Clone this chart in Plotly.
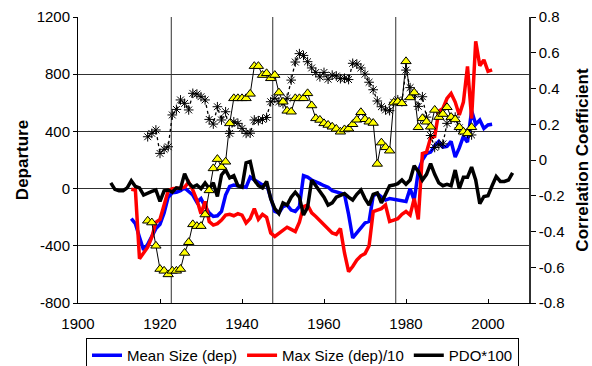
import plotly.graph_objects as go

# ---------------- data ----------------
pdo_years = list(range(1908, 2007))
pdo_x100 = [40, -5, -15, -15, 5, 55, 15, 5, -45, -30,
            -20, -10, -90, -15, -10, -25, 5, 0, 105, 40,
            10, 25, 0, 40, 0, 40, -55, 95, 130, 75,
            90, 20, 10, 180, 190, 60, 20, 5, 50, -70,
            -140, -175, -100, -115, -60, -25, -60, -185, -130, 60,
            20, -30, -60, -115, -100, -60, -50, -35, -60, -80,
            -40, -10, -70, -115, -40, -30, -100, -35, 20, 25,
            35, 60, 30, 60, 160, 120, 60, 100, 175, 100,
            40, 20, 30, 20, 130, 0, 80, 80, 150, 60,
            -105, -55, -50, 20, 85, 50, 50, 60, 110]

size_years = list(range(1913, 2002))
mean_size_dep = [-210, -245, -340, -430, -390, -340, -280, -250, -170, -60,
                 -30, -25, -15, 5, -20, -45, -95, -70, -125, -170,
                 -195, -190, -160, -45, 15, 25, 20, 15, 10, 80,
                 60, 40, 25, 30, -70, -160, -170, -125, -115, -150,
                 -160, -125, 90, 80, 60, 50, 35, 20, 10, -15,
                 -25, -35, -40, -180, -345, -310, -270, -240, -230, -50,
                 -35, -55, -80, -70, -75, -80, -85, -90, 0, -80,
                 120, 200, 245, 255, 300, 330, 290, 295, 330, 220,
                 285, 365, 325, 545, 450, 480, 420, 445, 450]
max_size_dep_10 = [-5, -10, -490, -450, -410, -340, -235, -215, -110, -15,
                   0, 0, 5, 10, 45, -10, -80, -175, -90, -230,
                   -255, -245, -220, -185, -180, -190, -175, -185, -240, -210,
                   -140, -215, -180, -200, -310, -335, -315, -290, -270, -285,
                   -300, -235, -125, -115, -170, -195, -225, -255, -280, -310,
                   -320, -280, -450, -580, -545, -500, -470, -455, -400, -160,
                   -150, -140, -115, -230, -220, -210, -180, -160, -185, -70,
                   -215, 245, 255, 355, 365, 540, 560, 630, 665, 605,
                   515, 605, 855, 490, 1030, 860, 900, 820, 830]

corr_years = list(range(1917, 1997))
corr_triangle = [-0.34, -0.35, -0.48, -0.61, -0.62, -0.64, -0.62, -0.62, -0.61, -0.52,
                 -0.46, -0.36, -0.37, -0.37, -0.305, -0.17, -0.047, 0.005, -0.04, -0.01,
                 0.205, 0.345, 0.345, 0.345, 0.345, 0.37, 0.525, 0.525, 0.475, 0.485,
                 0.457, 0.475, 0.377, 0.326, 0.275, 0.27, 0.345, 0.345, 0.345, 0.373,
                 0.305, 0.233, 0.224, 0.205, 0.196, 0.186, 0.174, 0.158, 0.171, 0.175,
                 0.2, 0.225, 0.267, 0.228, 0.214, 0.207, -0.022, 0.097, 0.071, 0.052,
                 0.321, 0.326, 0.317, 0.552, 0.35, 0.377, 0.183, 0.233, 0.214, 0.186,
                 0.28, 0.24, 0.257, 0.295, 0.24, 0.227, 0.183, 0.158, 0.149, 0.183]
corr_asterisk = [0.13, 0.149, 0.168, 0.037, 0.06, 0.074, 0.252, 0.283, 0.336, 0.317,
                 0.28, 0.373, 0.369, 0.354, 0.336, 0.227, 0.201, 0.298, 0.224, 0.27,
                 0.149, 0.214, 0.205, 0.177, 0.149, 0.15, 0.224, 0.22, 0.227, 0.238,
                 0.326, 0.345, 0.326, 0.315, 0.345, 0.447, 0.548, 0.595, 0.585, 0.55,
                 0.515, 0.49, 0.465, 0.49, 0.452, 0.475, 0.47, 0.455, 0.457, 0.45,
                 0.541, 0.537, 0.515, 0.48, 0.435, 0.393, 0.33, 0.298, 0.28, 0.276,
                 0.323, 0.337, 0.326, 0.503, 0.405, 0.368, 0.30, 0.354, 0.24, 0.137,
                 0.07, 0.084, 0.09, 0.205, 0.23, 0.24, 0.18, 0.158, 0.149, 0.14]

regime_shift_years = [1922.75, 1947.5, 1977.5]

x_tick_vals = [1900, 1920, 1940, 1960, 1980, 2000]
x_tick_text = ["1900", "1920", "1940", "1960", "1980", "2000"]
y_tick_vals = [-800, -400, 0, 400, 800, 1200]
y_tick_text = ["-800", "-400", "0", "400", "800", "1200"]
y2_tick_vals = [-0.8, -0.6, -0.4, -0.2, 0, 0.2, 0.4, 0.6, 0.8]
y2_tick_text = ["-0.8", "-0.6", "-0.4", "-0.2", "0", "0.2", "0.4", "0.6", "0.8"]

# ---------------- figure ----------------
FONT = "Liberation Sans, Arial, sans-serif"
fig = go.Figure()

fig.add_trace(go.Scatter(x=size_years, y=mean_size_dep, mode="lines",
                         name="Mean Size (dep)",
                         line=dict(color="#0000FF", width=3.5)))
fig.add_trace(go.Scatter(x=size_years, y=max_size_dep_10, mode="lines",
                         name="Max Size (dep)/10",
                         line=dict(color="#FF0000", width=3.5)))
fig.add_trace(go.Scatter(x=pdo_years, y=pdo_x100, mode="lines",
                         name="PDO*100",
                         line=dict(color="#000000", width=3.5)))
fig.add_trace(go.Scatter(x=corr_years, y=corr_asterisk, mode="lines+markers",
                         yaxis="y2", showlegend=False,
                         line=dict(color="#000000", width=1.3, dash="dot"),
                         marker=dict(symbol="asterisk-open", size=8,
                                     line=dict(color="#000000", width=1))))
fig.add_trace(go.Scatter(x=corr_years, y=corr_triangle, mode="lines+markers",
                         yaxis="y2", showlegend=False,
                         line=dict(color="#000000", width=1),
                         marker=dict(symbol="triangle-up", size=9, color="#FFFF00",
                                     line=dict(color="#000000", width=1))))

for yr in regime_shift_years:
    fig.add_shape(type="line", xref="x", yref="paper", x0=yr, x1=yr, y0=0, y1=1,
                  line=dict(color="#303030", width=1), layer="below")

fig.update_layout(
    width=592, height=366,
    margin=dict(l=78, r=63, t=17, b=63, autoexpand=False),
    paper_bgcolor="white", plot_bgcolor="white",
    font=dict(family=FONT, size=15, color="#000000"),
    showlegend=True,
    legend=dict(orientation="h", xref="container", yref="container",
                x=86 / 592, xanchor="left", y=1 - 338 / 366, yanchor="top",
                bordercolor="#000000", borderwidth=1, bgcolor="white",
                font=dict(family=FONT, size=15), itemwidth=30,
                tracegroupgap=0),
    xaxis=dict(range=[1900, 2010], tickvals=x_tick_vals, ticktext=x_tick_text,
               showgrid=False, zeroline=False, showline=True, linecolor="#000000",
               linewidth=1, ticks="inside", ticklen=4, tickcolor="#000000",
               ticklabelstandoff=7,
               tickfont=dict(family=FONT, size=15)),
    yaxis=dict(range=[-800, 1200], tickvals=y_tick_vals, ticktext=y_tick_text,
               showgrid=True, gridcolor="#303030", gridwidth=1, zeroline=False,
               showline=True, linecolor="#000000", linewidth=1,
               ticks="outside", ticklen=4, tickcolor="#000000",
               tickfont=dict(family=FONT, size=15),
               title=dict(text="<b>Departure</b>", standoff=3,
                          font=dict(family=FONT, size=17))),
    yaxis2=dict(range=[-0.8, 0.8], tickvals=y2_tick_vals, ticktext=y2_tick_text,
                overlaying="y", side="right", showgrid=False, zeroline=False,
                showline=True, linecolor="#303030", linewidth=1.5,
                ticks="outside", ticklen=5, tickcolor="#000000",
                tickfont=dict(family=FONT, size=15),
                title=dict(text="<b>Correlation Coefficient</b>", standoff=12,
                           font=dict(family=FONT, size=17))),
)

fig.write_html("out.html")
